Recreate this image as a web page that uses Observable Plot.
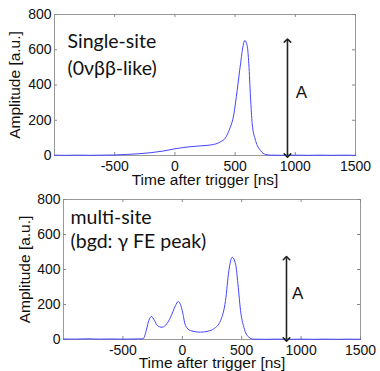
<!DOCTYPE html>
<html><head><meta charset="utf-8">
<script src="https://cdn.jsdelivr.net/npm/d3@7"></script>
<script src="https://cdn.jsdelivr.net/npm/@observablehq/plot@0.6"></script>
<style>body{margin:0;background:#fff;} #c svg{display:block;overflow:visible;}</style>
</head><body><div id="c"></div>
<script>
const xTicks = [-500, 0, 500, 1000, 1500];
const yTicks = [0, 200, 400, 600, 800];
const xLabel = "Time after trigger [ns]";
const yLabel = "Amplitude [a.u.]";

const singleTime = [-1000,-900,-800,-700,-600,-500,-400,-300,-200,-100,0,100,200,300,380,420,450,490,517,545,567,580,600,614,628,642,670,711,752,800,900,1000,1100,1200,1300,1400,1500];
const singleAmp  = [2,1,2,1,2,3,6,10,16,25,38,48,54,60,78,100,142,236,369,520,624,652,624,520,331,180,85,28,6,2,1,2,1,2,1,2,1];

const multiTime = [-1000,-900,-800,-700,-600,-500,-400,-330,-300,-282,-260,-235,-211,-170,-130,-99,-57,-35,-15,-1,27,69,153,220,265,322,364,392,420,448,471,490,518,560,600,700,800,900,1000,1100,1200,1300,1400,1500];
const multiAmp  = [3,2,4,2,3,2,3,4,60,108,131,110,80,70,90,127,194,217,200,166,80,51,42,48,61,108,223,394,470,432,299,166,70,13,2,1,2,1,2,1,2,1,2,1];

const arrowTime = [935, 877];
const arrowAmp = [652, 465];
const labelA = ["A", "A"];
const labelATime = [1051, 972];
const labelAAmp = [357, 265];
const panelText = ["Single-site\n(0νββ-like)", "multi-site\n(bgd: γ FE peak)"];

const panels = [
  {time: singleTime, amp: singleAmp, height: 190, mt: 14, mb: 35, ml: 54, mr: 25, tdx: 13, tdy: 14, lh: 1.4, ydx: -39, xdy: 25, shift: 0},
  {time: multiTime, amp: multiAmp, height: 186, mt: 14, mb: 32, ml: 63, mr: 20, tdx: 7, tdy: 7, lh: 1.25, ydx: -38, xdy: 24, shift: -5}
];

const W = 380;
panels.forEach((p, i) => {
  const pw = W - p.ml - p.mr;
  const ph = p.height - p.mt - p.mb;
  const data = p.time.map((t, k) => ({t, a: p.amp[k]}));
  const chart = Plot.plot({
    width: W, height: p.height,
    marginTop: p.mt, marginBottom: p.mb, marginLeft: p.ml, marginRight: p.mr,
    style: {fontFamily: "'Liberation Sans', Arial, sans-serif", background: "transparent", color: "#111", marginTop: p.shift + "px"},
    x: {domain: [-1000, 1500]},
    y: {domain: [0, 800]},
    marks: [
      Plot.frame({stroke: "#999", strokeWidth: 1}),
      Plot.ruleX(xTicks, {stroke: "#888", insetTop: ph - 3}),
      Plot.ruleX(xTicks, {stroke: "#888", insetBottom: ph - 3}),
      Plot.ruleY(yTicks, {stroke: "#888", insetRight: pw - 3}),
      Plot.ruleY(yTicks, {stroke: "#888", insetLeft: pw - 3}),
      Plot.axisX({ticks: xTicks, tickSize: 0, tickPadding: 6, fontSize: 14, label: null, tickFormat: d => String(d)}),
      Plot.axisY({ticks: yTicks, tickSize: 0, tickPadding: 3, fontSize: 14, label: null, tickFormat: d => String(d)}),
      Plot.text([xLabel], {frameAnchor: "bottom", dy: p.xdy, fontSize: 15.5, lineAnchor: "middle", fill: "#111"}),
      Plot.text([yLabel], {frameAnchor: "left", dx: p.ydx, rotate: -90, fontSize: 15.5, textAnchor: "middle", fill: "#111"}),
      Plot.line(data, {x: "t", y: "a", stroke: "#4444ff", strokeWidth: 1, curve: "monotone-x"}),
      Plot.link([0], {x1: () => arrowTime[i], x2: () => arrowTime[i], y1: () => 0, y2: () => arrowAmp[i],
        stroke: "#222", strokeWidth: 1.6, markerStart: "arrow-reverse", markerEnd: "arrow"}),
      Plot.text([labelA[i]], {x: () => labelATime[i], y: () => labelAAmp[i], fontSize: 17, fill: "#111"}),
      Plot.text([panelText[i]], {frameAnchor: "top-left", dx: p.tdx, dy: p.tdy, lineAnchor: "top",
        textAnchor: "start", fontSize: 19.5, lineHeight: p.lh, fontFamily: "Lato, 'Open Sans', sans-serif", fill: "#111"})
    ]
  });
  document.getElementById("c").appendChild(chart);
});
</script>
</body></html>
